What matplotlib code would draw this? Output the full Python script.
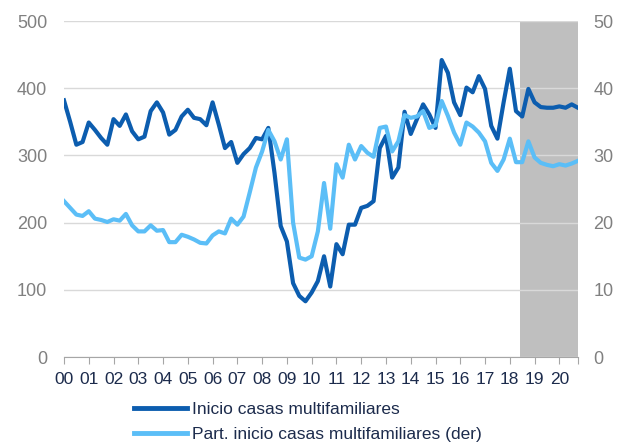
import matplotlib
matplotlib.use("Agg")
import matplotlib.pyplot as plt
from matplotlib.lines import Line2D

plt.rcParams["font.family"] = ["Liberation Sans", "DejaVu Sans"]

# quarterly, 2000Q1 .. 2020Q4
start_year = 2000
forecast_start = 2018.4

inicio = [382, 350, 316, 320, 349, 338, 326, 316, 354, 344, 361, 336,
          324, 328, 366, 379, 364, 331, 338, 358, 368, 356, 354, 345,
          379, 346, 311, 320, 289, 302, 311, 326, 324, 341, 274, 195,
          172, 110, 91, 83, 96, 113, 150, 105, 168, 153, 197, 197,
          222, 225, 232, 311, 329, 267, 282, 365, 332, 354, 376, 361,
          341, 442, 423, 379, 360, 401, 394, 418, 399, 344, 325, 379,
          429, 366, 358, 399, 379, 372, 371, 371, 373, 371, 376, 371]

participacion = [23.2, 22.2, 21.2, 21.0, 21.7, 20.6, 20.4, 20.1, 20.5, 20.3, 21.3, 19.6,
                 18.7, 18.7, 19.6, 18.8, 18.9, 17.1, 17.1, 18.2, 17.9, 17.5, 17.0, 16.9,
                 18.1, 18.7, 18.4, 20.6, 19.7, 20.9, 24.5, 28.2, 30.6, 33.8, 32.1, 29.4,
                 32.4, 20.0, 14.8, 14.5, 15.0, 18.7, 25.9, 19.1, 28.7, 26.7, 31.6, 29.4,
                 31.4, 30.4, 29.8, 34.1, 34.3, 30.6, 32.1, 36.0, 35.6, 35.8, 36.6, 34.1,
                 34.5, 38.1, 35.9, 33.4, 31.6, 34.9, 34.3, 33.4, 32.1, 28.9, 27.7, 29.4,
                 32.5, 29.0, 29.0, 32.1, 29.7, 28.9, 28.6, 28.4, 28.7, 28.5, 28.8, 29.2]

year_labels = ["%02d" % y for y in range(0, 21)]

x = [start_year + i / 4 for i in range(len(inicio))]

DARK = "#0C5DAF"
LIGHT = "#5BBEF7"
GRAY_TXT = "#808080"
NAVY = "#1C2B4C"

fig = plt.figure(figsize=(6.26, 4.48), dpi=100)
ax = fig.add_axes([0.1022, 0.203, 0.821, 0.750])
ax2 = ax.twinx()

ax.axvspan(forecast_start, x[-1], color="#BFBFBF", lw=0, zorder=0)
ax.plot(x, inicio, color=DARK, lw=3, zorder=3, solid_joinstyle="round")
ax2.plot(x, participacion, color=LIGHT, lw=3, zorder=2, solid_joinstyle="round")

ax.set_xlim(x[0], x[-1])
ax.set_ylim(0, 500)
ax2.set_ylim(0, 50)
ax.set_yticks(range(0, 501, 100))
ax2.set_yticks(range(0, 51, 10))
ax.yaxis.grid(True, color="#D9D9D9", lw=1)
ax.set_axisbelow(True)

ax.set_xticks([start_year + i for i in range(len(year_labels))] + [x[-1]])
ax.set_xticklabels(year_labels + [""])
ax.tick_params(axis="x", length=5, color="#A6A6A6", labelsize=12.5,
               labelcolor=NAVY, pad=6)
ax.tick_params(axis="y", length=0, labelsize=13, labelcolor=GRAY_TXT, pad=12)
ax2.tick_params(axis="y", length=0, labelsize=13, labelcolor=GRAY_TXT, pad=11)

for a in (ax, ax2):
    for s in ("top", "left", "right"):
        a.spines[s].set_visible(False)
    a.spines["bottom"].set_color("#A6A6A6")
ax2.spines["bottom"].set_visible(False)

# lines drawn on top of the shaded area
ax.set_zorder(ax2.get_zorder() - 1)
ax.patch.set_visible(False)
ax2.patch.set_visible(False)

handles = [Line2D([], [], color=DARK, lw=3.5),
           Line2D([], [], color=LIGHT, lw=3.5)]
labels = ["Inicio casas multifamiliares",
          "Part. inicio casas multifamiliares (der)"]
fig.legend(handles, labels, loc="upper left", bbox_to_anchor=(0.214, 0.103),
           frameon=False, fontsize=12.5, labelcolor=NAVY, handlelength=3.05,
           handletextpad=0.3, labelspacing=0.55, borderpad=0, borderaxespad=0)

fig.savefig("out.png", dpi=100)
